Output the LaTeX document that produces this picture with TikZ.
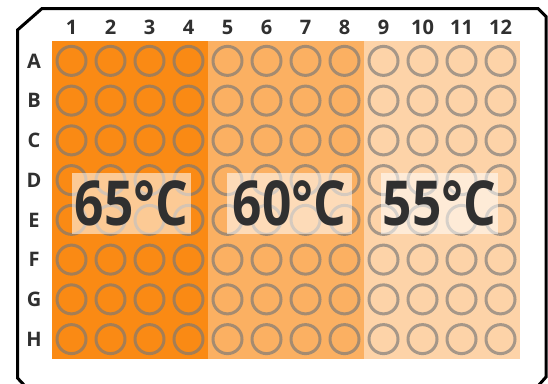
\documentclass[tikz,border=0pt]{standalone}
\usepackage{fontspec}
\setmainfont{Open Sans}
\newfontfamily\bigfont[FakeStretch=0.83]{Open Sans}
\definecolor{hot}{RGB}{250,138,20}
\definecolor{warm}{RGB}{251,176,98}
\definecolor{mild}{RGB}{253,211,168}
\definecolor{txt}{RGB}{48,48,48}
\definecolor{rim}{RGB}{120,120,120}
\begin{document}
\begin{tikzpicture}[x=1pt,y=-1pt,
  well/.style={draw=rim, draw opacity=0.65, line width=3pt},
  lab/.style={text=txt, font=\bfseries\fontsize{20}{20}\selectfont, inner sep=0pt},
  tbox/.style={fill=white, fill opacity=0.55, text opacity=1, text=txt,
    minimum width=119pt, minimum height=61pt, inner sep=0pt,
    font=\bigfont\bfseries\fontsize{62}{62}\selectfont},
  frame/.style={draw=black, line width=3pt, line join=miter}]
\clip (0,0) rectangle (548,383);
\useasboundingbox (0,0) rectangle (548,383);
\fill[white] (0,0) rectangle (548,383);
\fill[hot] (52,41) rectangle (208,359);
\fill[warm] (208,41) rectangle (364,359);
\fill[mild] (364,41) rectangle (520,359);
\foreach \c in {1,...,12}
  \foreach \r in {1,...,8}
    \draw[well] ({32.5+39*\c},{41+39.75*(\r-0.5)}) circle[radius=14.5];
\foreach \c in {1,...,12}
  \node[lab] (col\c) at ({32.5+39*\c},27) {\c};
\foreach \L [count=\r] in {A,B,C,D,E,F,G,H}
  \node[lab] (row\L) at (34,{41+39.75*(\r-0.5)}) {\L};
\node[tbox] (t65) at (131.5,203.5) {65°C};
\node[tbox, minimum width=125pt] (t60) at (289.5,203.5) {60°C};
\node[tbox, minimum width=117pt] (t55) at (439.5,203.5) {55°C};
\draw[frame] (17.5,30) -- (42,8.5) -- (538,8.5) -- (546,16.5) -- (546,377)
  -- (538,386) -- (25,386) -- (17.5,378) -- cycle;
\end{tikzpicture}
\end{document}
